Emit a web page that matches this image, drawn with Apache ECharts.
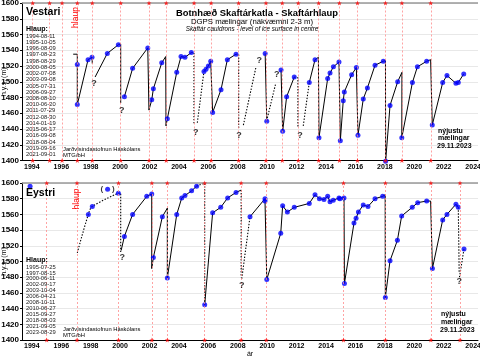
<!DOCTYPE html>
<html><head><meta charset="utf-8">
<script src="https://cdn.jsdelivr.net/npm/echarts@6/dist/echarts.min.js"></script>
<style>html,body{margin:0;padding:0;background:#fff}#c{width:480px;height:357px}</style>
</head><body><div id="c"></div><script>
// ---------- data ----------
const yearLabels = [1994,1996,1998,2000,2002,2004,2006,2008,2010,2012,2014,2016,2018,2020,2022,2024];
const vestariHlaup = ['1994-08-11','1995-10-05','1996-08-09','1997-08-23','1998-08-29','2000-08-05','2002-07-08','2003-09-08','2005-07-31','2006-09-27','2008-08-10','2010-06-20','2011-07-29','2012-08-30','2014-01-19','2015-06-17','2016-09-08','2018-08-04','2019-09-16','2021-09-01'];
const eystriHlaup = ['1995-07-25','1997-08-15','2000-06-11','2002-09-17','2003-10-04','2006-04-21','2008-10-11','2010-06-27','2015-09-27','2018-08-03','2021-09-05','2023-08-29'];

// Vestari measured points (decimal year, m a.s.l.)
const vestariPoints = [[1997.64,1522],[1997.64,1471],[1998.37,1528],[1998.64,1531],[1999.68,1536],[2000.43,1547],[2000.84,1481],[2001.40,1517],[2002.43,1543],[2002.70,1477],[2002.81,1491],[2003.38,1524],[2003.76,1453],[2004.40,1512],[2004.69,1532],[2004.96,1531],[2005.39,1537],[2006.25,1513],[2006.39,1516],[2006.55,1520],[2006.71,1526],[2006.84,1461],[2007.41,1490],[2007.84,1528],[2008.43,1535],[2010.41,1536],[2010.52,1450],[2011.49,1515],[2011.60,1437],[2011.87,1481],[2012.39,1506],[2013.41,1499],[2013.80,1528],[2014.07,1429],[2014.66,1504],[2014.82,1511],[2015.05,1519],[2015.43,1525],[2015.52,1425],[2015.72,1476],[2015.79,1487],[2016.29,1509],[2016.61,1518],[2016.72,1432],[2017.08,1478],[2017.36,1492],[2017.88,1521],[2018.44,1526],[2018.60,1399],[2018.90,1470],[2019.42,1500],[2019.70,1429],[2020.42,1499],[2020.76,1519],[2021.39,1526],[2021.77,1445],[2022.48,1499],[2022.77,1508],[2023.38,1498],[2023.54,1499],[2023.91,1510]];
const vestariSolid1 = [[1997.36,1535],[1997.64,1535],[1997.64,1471],[1998.37,1528],[1998.64,1531],[1998.66,1523]];
const vestariSolid2 = [[1998.85,1506],[1999.68,1536],[2000.43,1547],[2000.59,1548],[2000.59,1473]];
const vestariSolid3 = [[2000.84,1481],[2001.40,1517],[2002.43,1543],[2002.51,1464],[2002.70,1477],[2002.81,1491],[2003.38,1524],[2003.65,1532],[2003.67,1444],[2003.76,1453],[2004.40,1512],[2004.69,1532],[2004.96,1531],[2005.39,1537]];
const vestariSolid4 = [[2006.25,1513],[2006.39,1516],[2006.55,1520],[2006.71,1526],[2006.84,1461],[2007.41,1490],[2007.84,1528],[2008.43,1535]];
const vestariSolid5 = [[2010.41,1536],[2010.52,1450]];
const vestariSolid6 = [[2011.49,1515],[2011.60,1437],[2011.87,1481],[2012.39,1506]];
const vestariSolid7 = [[2013.41,1499],[2013.80,1528],[2014.03,1531],[2014.07,1429],[2014.66,1504],[2014.82,1511],[2015.05,1519],[2015.43,1525],[2015.47,1527],[2015.52,1425],[2015.72,1476],[2015.79,1487],[2016.29,1509],[2016.61,1518],[2016.72,1432],[2017.08,1478],[2017.36,1492],[2017.88,1521],[2018.44,1526],[2018.59,1527],[2018.60,1399],[2018.90,1470],[2019.42,1500],[2019.71,1512],[2019.70,1429],[2020.42,1499],[2020.76,1519],[2021.39,1526],[2021.66,1528],[2021.77,1445],[2022.48,1499],[2022.77,1508],[2023.38,1498],[2023.54,1499],[2023.91,1510]];
const vestariDotted1 = [[2005.39,1537],[2005.57,1537],[2005.57,1445]];
const vestariDotted2 = [[2005.80,1448],[2006.25,1513]];
const vestariDotted3 = [[2008.43,1535],[2008.61,1535],[2008.61,1440]];
const vestariDotted4 = [[2008.93,1445],[2009.79,1519]];
const vestariDotted5 = [[2010.56,1454],[2011.13,1498]];
const vestariDotted6 = [[2012.39,1506],[2012.64,1505],[2012.64,1443]];
const vestariDotted7 = [[2013.00,1444],[2013.41,1499]];
const vestariQuestion = [[1998.78,1498],[2000.66,1464],[2005.69,1436],[2008.64,1432],[2010.01,1527],[2011.19,1509],[2012.78,1432]];

// Eystri
const eystriPoints = [[1994.43,1596],[1998.39,1560],[1998.66,1570],[1999.70,1592],[2000.43,1587],[2000.84,1532],[2001.40,1560],[2002.36,1583],[2002.70,1586],[2002.81,1505],[2003.42,1557],[2003.76,1479],[2004.40,1560],[2004.74,1581],[2004.96,1584],[2005.41,1590],[2005.75,1596],[2006.30,1445],[2006.84,1562],[2007.39,1569],[2007.86,1581],[2008.43,1588],[2009.38,1557],[2010.40,1580],[2010.40,1577],[2010.52,1477],[2011.47,1536],[2011.60,1571],[2011.92,1563],[2012.39,1569],[2013.41,1574],[2013.80,1585],[2014.10,1580],[2014.41,1579],[2014.66,1583],[2014.82,1576],[2015.04,1578],[2015.43,1581],[2015.49,1580],[2015.77,1581],[2015.80,1472],[2016.45,1549],[2016.59,1555],[2016.75,1563],[2017.08,1572],[2017.40,1570],[2017.88,1580],[2018.40,1583],[2018.58,1454],[2018.90,1501],[2019.40,1527],[2019.69,1558],[2020.41,1569],[2020.78,1575],[2021.39,1577],[2021.78,1491],[2022.48,1553],[2022.77,1560],[2023.38,1573],[2023.54,1569],[2023.93,1516]];
const eystriUncertain = [[1999.70,1592]];
const eystriSolid1 = [[2000.62,1514],[2000.84,1532],[2001.40,1560],[2002.36,1583],[2002.70,1586],[2002.70,1491],[2002.81,1505],[2003.42,1557],[2003.76,1568],[2003.76,1479],[2004.40,1560],[2004.74,1581],[2004.96,1584],[2005.41,1590],[2005.75,1596]];
const eystriSolid2 = [[2006.30,1445],[2006.84,1562],[2007.39,1569],[2007.86,1581],[2008.43,1588],[2008.78,1591]];
const eystriSolid3 = [[2009.38,1557],[2010.40,1580],[2010.40,1577],[2010.52,1477],[2011.47,1536],[2011.60,1571],[2011.92,1563],[2012.39,1569],[2013.41,1574],[2013.80,1585],[2014.10,1580],[2014.41,1579],[2014.66,1583],[2014.82,1576],[2015.04,1578],[2015.43,1581],[2015.49,1580],[2015.77,1581],[2015.80,1472],[2016.45,1549],[2016.59,1555],[2016.75,1563],[2017.08,1572],[2017.40,1570],[2017.88,1580],[2018.40,1583],[2018.57,1585],[2018.58,1454],[2018.90,1501],[2019.40,1527],[2019.69,1558],[2020.41,1569],[2020.78,1575],[2021.39,1577],[2021.66,1577],[2021.78,1491],[2022.48,1553],[2022.77,1560],[2023.38,1573],[2023.54,1569]];
const eystriDotted1 = [[1997.64,1511],[1998.39,1560],[1998.66,1570],[2000.43,1587]];
const eystriDotted2 = [[2000.43,1587],[2000.59,1587],[2000.59,1512]];
const eystriDotted3 = [[2005.75,1596],[2006.30,1600],[2006.30,1445]];
const eystriDotted4 = [[2008.78,1591],[2008.78,1480]];
const eystriDotted5 = [[2008.82,1478],[2009.38,1557]];
const eystriDotted6 = [[2023.54,1569],[2023.60,1485]];
const eystriDotted7 = [[2023.62,1480],[2023.93,1516]];
const eystriQuestion = [[2000.70,1505],[2008.82,1470],[2023.61,1474]];

// ---------- chart ----------
const FONT = '"Liberation Sans", Arial, Helvetica, sans-serif';
const labelShift = 0.55;
const X_MIN = 1993.88, X_MAX = 2024.88;
function dec(s){
  const d = new Date(s + 'T00:00:00Z'); const y = d.getUTCFullYear();
  const a = Date.UTC(y,0,1), b = Date.UTC(y+1,0,1);
  return y + (d.getTime()-a)/(b-a);
}
const STAR = 'path://M12,0 L15,9 L24,9 L17,14.5 L19.5,24 L12,18 L4.5,24 L7,14.5 L0,9 L9,9 Z';

function xAxisCfg(gi, name){
  return {gridIndex:gi, type:'value', min:X_MIN, max:X_MAX,
    axisLine:{show:true, onZero:false, lineStyle:{color:'#000', width:1}},
    axisTick:{show:false}, splitLine:{show:false},
    axisLabel:{customValues: yearLabels.map(y=>y+labelShift), formatter: v=>String(Math.round(v-labelShift)),
      fontSize:7, fontWeight:'bold', color:'#000', margin:3, fontFamily:FONT},
    name:name, nameLocation:'middle', nameGap:11, nameMoveOverlap:false,
    nameTextStyle:{fontSize:7, color:'#000', fontFamily:FONT}};
}
function yAxisCfg(gi){
  return {gridIndex:gi, type:'value', min:1400, max:1600, interval:20,
    axisLine:{show:true, lineStyle:{color:'#000'}},
    axisTick:{show:true, length:2, lineStyle:{color:'#000'}},
    axisLabel:{fontSize:8, fontWeight:'bold', color:'#000', margin:3, fontFamily:FONT, formatter:v=>String(v)},
    splitLine:{show:true, lineStyle:{color:'#e2e2e2', width:0.8}},
    name:'h.y.s. (m)', nameLocation:'middle', nameGap:14, nameMoveOverlap:false, nameRotate:90,
    nameTextStyle:{fontSize:7, color:'#000', fontFamily:FONT}};
}
function lineS(seg, gi, dotted, smooth){
  return {type:'line', xAxisIndex:gi, yAxisIndex:gi, data:seg, symbol:'none', smooth: smooth||false,
    silent:true, z:3, animation:false,
    lineStyle:{color:'#000', width: dotted?1.1:1, type: dotted?[1.4,1.6]:'solid'}};
}
function pointS(pts, gi){
  return {type:'scatter', xAxisIndex:gi, yAxisIndex:gi, data:pts, symbol:'circle', symbolSize:5,
    itemStyle:{color:'#0000ff'}, z:4, clip:false, silent:true};
}
function labelS(pts, gi, txt, size){
  return {type:'scatter', xAxisIndex:gi, yAxisIndex:gi, data:pts, symbol:'circle', symbolSize:1,
    itemStyle:{color:'rgba(0,0,0,0)'}, z:6, clip:false, silent:true,
    label:{show:true, position:'inside', formatter:txt, fontSize:size, fontWeight:'bold', color:'#000', fontFamily:FONT}};
}
function hlaupS(dates, gi){
  const xs = dates.map(dec);
  return {type:'scatter', xAxisIndex:gi, yAxisIndex:gi, data: xs.flatMap(x=>[[x,1600],[x,1400]]),
    symbol:STAR, symbolSize:5, itemStyle:{color:'#ff0000'}, z:7, clip:false, silent:true,
    markLine:{silent:true, symbol:['none','none'], label:{show:false}, animation:false,
      lineStyle:{color:'#ff8c8c', type:[2,2], width:0.8},
      data: xs.map(x=>({xAxis:x}))}};
}
function topBorder(gi){
  return {type:'line', xAxisIndex:gi, yAxisIndex:gi, data:[], silent:true,
    markLine:{silent:true, symbol:['none','none'], label:{show:false}, animation:false,
      lineStyle:{color:'#999', type:'solid', width:1.6}, data:[{yAxis:1600}]}};
}

const series = [
  topBorder(0), topBorder(1),
  hlaupS(vestariHlaup,0), hlaupS(eystriHlaup,1),
  lineS(vestariSolid1,0), lineS(vestariSolid2,0), lineS(vestariSolid3,0), lineS(vestariSolid4,0),
  lineS(vestariSolid5,0), lineS(vestariSolid6,0), lineS(vestariSolid7,0),
  lineS(vestariDotted1,0,true), lineS(vestariDotted2,0,true), lineS(vestariDotted3,0,true),
  lineS(vestariDotted4,0,true), lineS(vestariDotted5,0,true), lineS(vestariDotted6,0,true), lineS(vestariDotted7,0,true),
  lineS(eystriSolid1,1), lineS(eystriSolid2,1), lineS(eystriSolid3,1),
  lineS(eystriDotted1,1,true,0.35), lineS(eystriDotted2,1,true), lineS(eystriDotted3,1,true),
  lineS(eystriDotted4,1,true), lineS(eystriDotted5,1,true), lineS(eystriDotted6,1,true), lineS(eystriDotted7,1,true),
  pointS(vestariPoints,0), pointS(eystriPoints,1),
  labelS(vestariQuestion,0,'?',9), labelS(eystriQuestion,1,'?',9),
  labelS(eystriUncertain,1,'(    )',8)
];

// ---------- texts ----------
function txt(t, x, y, font, opts){
  opts = opts || {};
  return {type:'text', x:x, y:y, rotation: opts.rot||0, z:100, silent:true,
    style:{text:t, font:font, fill: opts.fill||'#000', textAlign: opts.align||'left', textVerticalAlign:'middle',
      align: opts.align||'left', verticalAlign:'middle'}};
}
const F = (w,s,st)=> (st||'') + ' ' + (w||'normal') + ' ' + s + 'px ' + FONT;
const graphic = [
  txt('Vestari', 26, 12.5, F('bold',10.5)),
  txt('Eystri', 26, 193.5, F('bold',10.5)),
  txt('Botnhæð Skaftárkatla - Skaftárhlaup', 257, 13, F('bold',9.4), {align:'center'}),
  txt('DGPS mælingar (nákvæmni 2-3 m)', 252, 21.7, F('normal',7.8), {align:'center'}),
  txt('Skaftár cauldrons - level of ice surface in centre', 252, 29.6, F('normal',6.3,'italic'), {align:'center'}),
  txt('hlaup', 76, 17.5, F('normal',8.5), {fill:'#ff0000', rot:Math.PI/2, align:'center'}),
  txt('hlaup', 76.5, 199, F('normal',8.5), {fill:'#ff0000', rot:Math.PI/2, align:'center'}),
  txt('Hlaup:', 26, 29.3, F('bold',7)),
  txt('Hlaup:', 26, 260.5, F('bold',7)),
  txt('Jarðvísindastofnun Háskólans', 63, 149, F('normal',5.8)),
  txt('MTG/bH', 63, 155.3, F('normal',5.8)),
  txt('Jarðvísindastofnun Háskólans', 63, 329.3, F('normal',5.8)),
  txt('MTG/bH', 63, 335.3, F('normal',5.8)),
  txt('nýjustu', 438, 130.7, F('bold',7)),
  txt('mælingar', 438, 138.3, F('bold',7)),
  txt('29.11.2023', 437, 145.9, F('bold',7)),
  txt('nýjustu', 441, 314.5, F('bold',7)),
  txt('mælingar', 441, 322.5, F('bold',7)),
  txt('29.11.2023', 440, 330.5, F('bold',7))
];
vestariHlaup.forEach((d,i)=>graphic.push(txt(d, 26, 36 + i*6.24, F('normal',5.8), {fill:'#222'})));
eystriHlaup.forEach((d,i)=>graphic.push(txt(d, 26, 267 + i*5.92, F('normal',5.8), {fill:'#222'})));

const chart = echarts.init(document.getElementById('c'), null, {renderer:'canvas', width:480, height:357});
chart.setOption({
  animation:false,
  backgroundColor:'#fff',
  textStyle:{fontFamily:FONT},
  grid:[{left:22, right:2, top:3, height:157.5, containLabel:false, outerBoundsMode:'none'},
        {left:22, right:2, top:183, height:157, containLabel:false, outerBoundsMode:'none'}],
  xAxis:[xAxisCfg(0,''), xAxisCfg(1,'ár')],
  yAxis:[yAxisCfg(0), yAxisCfg(1)],
  series: series,
  graphic: graphic
});
</script></body></html>
